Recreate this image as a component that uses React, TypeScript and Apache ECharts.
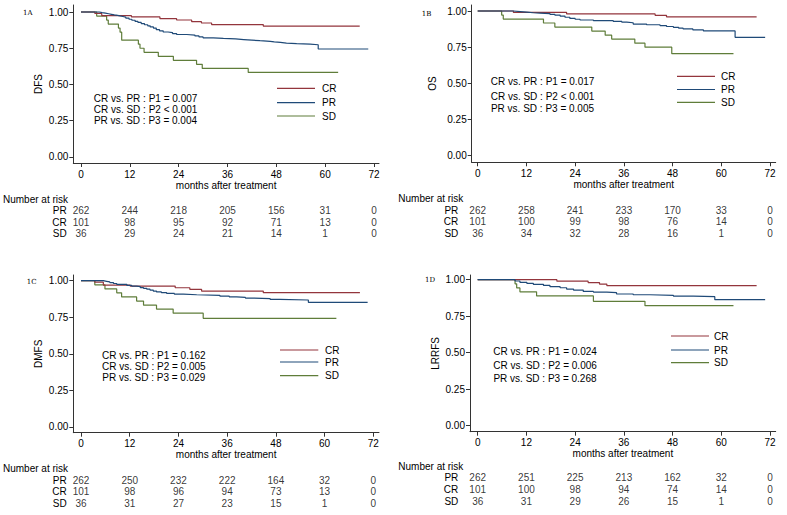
import React, { useEffect, useRef } from "react";
import * as echarts from "echarts";

// ---------- data ----------
const monthTicks = [0, 12, 24, 36, 48, 60, 72];
const survTicks = [0, 0.25, 0.5, 0.75, 1];
const groups = ["PR", "CR", "SD"];
const legendGroups = ["CR", "PR", "SD"];

// 1A DFS
const dfsCR: number[][] = [[0, 1], [3.4, 0.99], [5.1, 0.975], [12.4, 0.966], [19.4, 0.954], [23.5, 0.945], [27.2, 0.933], [29.6, 0.924], [32.1, 0.913], [44.8, 0.903], [68.5, 0.903]];
const dfsPR: number[][] = [[0, 1], [4.5, 0.996], [5.2, 0.992], [6.0, 0.988], [6.8, 0.984], [7.5, 0.98], [8.2, 0.977], [9.0, 0.973], [9.6, 0.969], [10.3, 0.965], [11.0, 0.958], [11.8, 0.95], [12.5, 0.943], [13.3, 0.935], [14.0, 0.928], [14.8, 0.92], [15.6, 0.912], [16.4, 0.905], [17.0, 0.897], [17.8, 0.889], [18.5, 0.878], [19.3, 0.87], [20.2, 0.862], [21.4, 0.858], [22.5, 0.851], [23.5, 0.845], [26.0, 0.841], [28.0, 0.835], [29.0, 0.828], [30.0, 0.822], [32.5, 0.818], [35.0, 0.814], [38.0, 0.81], [40.0, 0.806], [42.0, 0.802], [44.0, 0.798], [46.5, 0.794], [47.5, 0.79], [49.0, 0.786], [50.5, 0.782], [53.0, 0.778], [56.3, 0.774], [58.3, 0.745], [70.6, 0.745]];
const dfsSD: number[][] = [[0, 1], [3.85, 0.972], [6.3, 0.944], [6.7, 0.917], [9.2, 0.889], [9.6, 0.861], [10.0, 0.806], [14.1, 0.778], [14.5, 0.75], [15.5, 0.722], [19.0, 0.694], [22.7, 0.667], [28.4, 0.639], [29.8, 0.611], [41.1, 0.583], [63.2, 0.583]];

// 1B OS
const osCR: number[][] = [[0, 1], [8.8, 0.99], [21.9, 0.98], [43.7, 0.97], [46.5, 0.96], [68.7, 0.96]];
const osPR: number[][] = [[0, 1], [8.8, 0.996], [10.5, 0.992], [12.1, 0.988], [13.7, 0.986], [15.3, 0.982], [17.8, 0.977], [19.0, 0.972], [20.3, 0.965], [21.5, 0.957], [22.7, 0.949], [24.0, 0.943], [25.2, 0.938], [28.5, 0.933], [33.4, 0.928], [35.5, 0.923], [36.7, 0.919], [38.3, 0.91], [41.6, 0.905], [44.9, 0.899], [46.5, 0.893], [48.2, 0.887], [49.5, 0.881], [50.6, 0.876], [53.0, 0.869], [55.6, 0.862], [63.4, 0.818], [70.8, 0.818]];
const osSD: number[][] = [[0, 1], [5.9, 0.972], [6.3, 0.944], [16.2, 0.917], [19.0, 0.889], [28.1, 0.861], [31.4, 0.833], [33.0, 0.806], [38.7, 0.778], [41.2, 0.75], [47.8, 0.705], [63.0, 0.705]];

// 1C DMFS
const dmfsCR: number[][] = [[0, 1], [3.4, 0.99], [5.5, 0.97], [12.1, 0.963], [23.2, 0.952], [26.8, 0.941], [29.7, 0.929], [44.9, 0.918], [68.7, 0.918]];
const dmfsPR: number[][] = [[0, 1], [5.5, 0.996], [6.3, 0.992], [7.1, 0.987], [8.0, 0.981], [8.8, 0.975], [11.3, 0.968], [12.5, 0.963], [13.7, 0.959], [14.6, 0.953], [15.4, 0.948], [16.2, 0.942], [17.0, 0.936], [17.8, 0.929], [18.6, 0.923], [19.8, 0.918], [21.1, 0.913], [23.0, 0.908], [25.2, 0.904], [28.5, 0.9], [34.2, 0.895], [36.5, 0.89], [38.3, 0.886], [40.5, 0.881], [42.4, 0.877], [46.6, 0.872], [49.0, 0.868], [56.0, 0.852], [70.6, 0.852]];
const dmfsSD: number[][] = [[0, 1], [3.4, 0.972], [5.9, 0.944], [8.8, 0.917], [10.0, 0.889], [13.7, 0.861], [15.4, 0.833], [18.6, 0.806], [22.7, 0.778], [30.1, 0.743], [62.9, 0.743]];

// 1D LRRFS
const lrrfsCR: number[][] = [[0, 1], [19.5, 0.99], [27.2, 0.98], [30.0, 0.97], [31.8, 0.96], [68.7, 0.96]];
const lrrfsPR: number[][] = [[0, 1], [9.2, 0.991], [10.4, 0.982], [12.1, 0.975], [13.7, 0.968], [16.2, 0.961], [17.8, 0.952], [20.3, 0.945], [21.9, 0.936], [23.6, 0.929], [26.0, 0.92], [28.5, 0.915], [31.8, 0.911], [34.2, 0.902], [38.3, 0.897], [42.4, 0.893], [48.2, 0.888], [53.1, 0.884], [58.4, 0.863], [70.8, 0.863]];
const lrrfsSD: number[][] = [[0, 1], [9.2, 0.972], [9.6, 0.944], [10.4, 0.917], [14.5, 0.889], [28.5, 0.852], [41.2, 0.822], [63.0, 0.822]];

// Number at risk (PR, CR, SD) at monthTicks
const dfsRiskPR = [262, 244, 218, 205, 156, 31, 0];
const dfsRiskCR = [101, 98, 95, 92, 71, 13, 0];
const dfsRiskSD = [36, 29, 24, 21, 14, 1, 0];
const osRiskPR = [262, 258, 241, 233, 170, 33, 0];
const osRiskCR = [101, 100, 99, 98, 76, 14, 0];
const osRiskSD = [36, 34, 32, 28, 16, 1, 0];
const dmfsRiskPR = [262, 250, 232, 222, 164, 32, 0];
const dmfsRiskCR = [101, 98, 96, 94, 73, 13, 0];
const dmfsRiskSD = [36, 31, 27, 23, 15, 1, 0];
const lrrfsRiskPR = [262, 251, 225, 213, 162, 32, 0];
const lrrfsRiskCR = [101, 100, 98, 94, 74, 14, 0];
const lrrfsRiskSD = [36, 31, 29, 26, 15, 1, 0];

const dfsP = ["CR vs. PR : P1 = 0.007", "CR vs. SD : P2 < 0.001", "PR vs. SD : P3 = 0.004"];
const osP = ["CR vs. PR : P1 = 0.017", "CR vs. SD : P2 < 0.001", "PR vs. SD : P3 = 0.005"];
const dmfsP = ["CR vs. PR : P1 = 0.162", "CR vs. SD : P2 = 0.005", "PR vs. SD : P3 = 0.029"];
const lrrfsP = ["CR vs. PR : P1 = 0.024", "CR vs. SD : P2 = 0.006", "PR vs. SD : P3 = 0.268"];

// ---------- layout / style ----------
const COLORS: Record<string, string> = { CR: "#93353c", PR: "#1f4a78", SD: "#5f7d3a" };
const FONT = "Liberation Sans, Arial, sans-serif";
const AXIS_COLOR = "#333";

const panels = [
  {
    tag: "1A", name: "DFS", curves: { CR: dfsCR, PR: dfsPR, SD: dfsSD }, risk: { PR: dfsRiskPR, CR: dfsRiskCR, SD: dfsRiskSD }, pTexts: dfsP,
    grid: { left: 73.3, top: 5, width: 305.7, height: 158 }, x: [-1.892, 73.24], y: [-0.0414, 1.0483],
    yNameGap: 30, xNameGap: 17,
    riskGrid: { top: 205, height: 34 }, riskMargin: 6.6, riskTitle: [3, 199.3],
    tagPos: [23, 13], pPos: [145.5, [98.7, 109.3, 120.3]],
    legend: { x1: 277, x2: 315, tx: 322, ys: [88.3, 102.7, 116] },
  },
  {
    tag: "1B", name: "OS", curves: { CR: osCR, PR: osPR, SD: osSD }, risk: { PR: osRiskPR, CR: osRiskCR, SD: osRiskSD }, pTexts: osP,
    grid: { left: 471.7, top: 5, width: 304, height: 157.3 }, x: [-1.478, 73.4], y: [-0.0456, 1.0415],
    yNameGap: 34, xNameGap: 16,
    riskGrid: { top: 204.2, height: 35 }, riskMargin: 13.4, riskTitle: [398.3, 198.3],
    tagPos: [421.7, 14], pPos: [542.5, [81.7, 96.7, 108.3]],
    legend: { x1: 677, x2: 715, tx: 721, ys: [76.3, 89.5, 102.3] },
  },
  {
    tag: "1C", name: "DMFS", curves: { CR: dmfsCR, PR: dmfsPR, SD: dmfsSD }, risk: { PR: dmfsRiskPR, CR: dmfsRiskCR, SD: dmfsRiskSD }, pTexts: dmfsP,
    grid: { left: 73.3, top: 275, width: 305.7, height: 157.7 }, x: [-1.897, 73.4], y: [-0.039, 1.039],
    yNameGap: 30, xNameGap: 17,
    riskGrid: { top: 474.2, height: 35 }, riskMargin: 6.6, riskTitle: [3, 468.3],
    tagPos: [26.7, 282.7], pPos: [153.8, [355, 366.5, 377]],
    legend: { x1: 280, x2: 318.3, tx: 325, ys: [350, 362, 375.7] },
  },
  {
    tag: "1D", name: "LRRFS", curves: { CR: lrrfsCR, PR: lrrfsPR, SD: lrrfsSD }, risk: { PR: lrrfsRiskPR, CR: lrrfsRiskCR, SD: lrrfsRiskSD }, pTexts: lrrfsP,
    grid: { left: 470, top: 275, width: 305.7, height: 156.7 }, x: [-1.897, 73.4], y: [-0.0411, 1.0322],
    yNameGap: 30, xNameGap: 16.6,
    riskGrid: { top: 471.7, height: 36 }, riskMargin: 11.7, riskTitle: [398.3, 466.7],
    tagPos: [425, 280.7], pPos: [545, [351.7, 365, 378.3]],
    legend: { x1: 671, x2: 709, tx: 714, ys: [336, 350, 362.7] },
  },
];

function buildOption() {
  const grid: any[] = [];
  const xAxis: any[] = [];
  const yAxis: any[] = [];
  const series: any[] = [];
  const graphic: any[] = [];

  panels.forEach((p, i) => {
    const gMain = i * 2;
    const gRisk = i * 2 + 1;
    grid.push({ ...p.grid, containLabel: false });
    grid.push({ left: p.grid.left, width: p.grid.width, top: p.riskGrid.top, height: p.riskGrid.height, containLabel: false });

    xAxis.push({
      type: "value", gridIndex: gMain, min: p.x[0], max: p.x[1],
      name: "months after treatment", nameLocation: "middle", nameGap: p.xNameGap,
      nameTextStyle: { fontSize: 10, color: "#000", fontFamily: FONT },
      axisLine: { show: true, onZero: false, lineStyle: { color: AXIS_COLOR, width: 1 } },
      axisTick: { show: true, length: 4, customValues: monthTicks, lineStyle: { color: AXIS_COLOR } },
      axisLabel: { show: true, customValues: monthTicks, fontSize: 10, color: "#000", margin: 6, fontFamily: FONT, showMinLabel: true, showMaxLabel: true },
      splitLine: { show: false },
    });
    xAxis.push({ type: "value", gridIndex: gRisk, min: p.x[0], max: p.x[1], show: false });

    yAxis.push({
      type: "value", gridIndex: gMain, min: p.y[0], max: p.y[1],
      name: p.name, nameLocation: "middle", nameGap: p.yNameGap, nameRotate: 90,
      nameTextStyle: { fontSize: 10, color: "#000", fontFamily: FONT },
      axisLine: { show: true, onZero: false, lineStyle: { color: AXIS_COLOR, width: 1 } },
      axisTick: { show: true, length: 4, customValues: survTicks, lineStyle: { color: AXIS_COLOR } },
      axisLabel: { show: true, customValues: survTicks, fontSize: 10, color: "#000", margin: 5, fontFamily: FONT, formatter: (v: number) => v.toFixed(2) },
      splitLine: { show: false },
    });
    yAxis.push({
      type: "category", gridIndex: gRisk, data: groups, inverse: true,
      axisLine: { show: false }, axisTick: { show: false }, splitLine: { show: false },
      axisLabel: { interval: 0, fontSize: 10, color: "#000", margin: p.riskMargin, fontFamily: FONT },
    });

    legendGroups.forEach((g) => {
      series.push({
        type: "line", name: g, xAxisIndex: gMain, yAxisIndex: gMain,
        data: (p.curves as any)[g], step: "end", showSymbol: false, symbol: "none",
        lineStyle: { color: COLORS[g], width: 1.2 }, itemStyle: { color: COLORS[g] },
        z: g === "CR" ? 3 : g === "PR" ? 4 : 2, silent: true,
      });
    });

    const riskData: any[] = [];
    groups.forEach((g) => {
      (p.risk as any)[g].forEach((n: number, k: number) => riskData.push([monthTicks[k], g, n]));
    });
    series.push({
      type: "scatter", xAxisIndex: gRisk, yAxisIndex: gRisk, data: riskData, symbolSize: 0, silent: true,
      label: { show: true, position: "inside", formatter: (d: any) => String(d.value[2]), fontSize: 10, color: "#000", fontFamily: FONT },
    });

    // panel tag
    graphic.push({ type: "text", left: p.tagPos[0], top: p.tagPos[1] - 4, style: { text: p.tag, fontSize: 7, fill: "#000", fontFamily: "DejaVu Serif, Liberation Serif, serif" } });
    // number at risk title
    graphic.push({ type: "text", x: p.riskTitle[0], y: p.riskTitle[1], style: { text: "Number at risk", fontSize: 10, fill: "#000", fontFamily: FONT, verticalAlign: "middle", align: "left" } });
    // p values
    (p.pPos[1] as number[]).forEach((yy, k) => {
      graphic.push({ type: "text", x: p.pPos[0] as number, y: yy, style: { text: p.pTexts[k], fontSize: 10, fill: "#000", fontFamily: FONT, align: "center", verticalAlign: "middle" } });
    });
    // legend
    legendGroups.forEach((g, k) => {
      const yy = p.legend.ys[k];
      graphic.push({ type: "line", shape: { x1: p.legend.x1, y1: yy, x2: p.legend.x2, y2: yy }, style: { stroke: COLORS[g], lineWidth: 1.2 } });
      graphic.push({ type: "text", x: p.legend.tx, y: yy, style: { text: g, fontSize: 10, fill: "#000", fontFamily: FONT, align: "left", verticalAlign: "middle" } });
    });
  });

  return {
    animation: false,
    backgroundColor: "#fff",
    textStyle: { fontFamily: FONT },
    grid, xAxis, yAxis, series, graphic,
  };
}

export default function App() {
  const ref = useRef<HTMLDivElement>(null);
  useEffect(() => {
    if (!ref.current) return;
    const chart = echarts.init(ref.current, undefined, { renderer: "svg" });
    chart.setOption(buildOption() as any);
    return () => chart.dispose();
  }, []);
  return (
    <div
      ref={ref}
      style={{ position: "absolute", left: 0, top: 0, width: 787, height: 515, background: "#fff" }}
    />
  );
}
